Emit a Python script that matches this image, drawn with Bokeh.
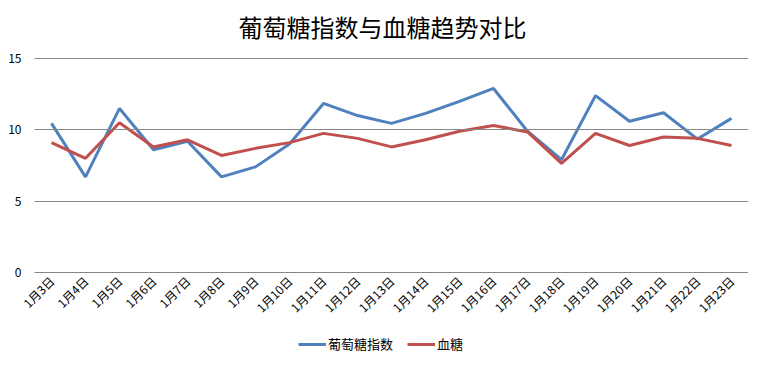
from bokeh.plotting import figure
from bokeh.models import Range1d, Legend, LegendItem, FixedTicker, Label
from bokeh.embed import file_html
from bokeh.resources import INLINE
import math

dates = ["1月3日", "1月4日", "1月5日", "1月6日", "1月7日", "1月8日", "1月9日",
         "1月10日", "1月11日", "1月12日", "1月13日", "1月14日", "1月15日",
         "1月16日", "1月17日", "1月18日", "1月19日", "1月20日", "1月21日",
         "1月22日", "1月23日"]
glucose_index = [10.45, 6.7, 11.5, 8.6, 9.2, 6.7, 7.4, 9.0, 11.85, 11.0, 10.45,
                 11.15, 12.0, 12.9, 9.9, 7.9, 12.4, 10.6, 11.2, 9.35, 10.8]
blood_sugar = [9.1, 8.0, 10.5, 8.8, 9.3, 8.2, 8.7, 9.1, 9.75, 9.4, 8.8,
               9.3, 9.9, 10.3, 9.85, 7.65, 9.75, 8.9, 9.5, 9.4, 8.9]
y_ticks = [0, 5, 10, 15]
title_text = "葡萄糖指数与血糖趋势对比"

FONT = "Noto Sans CJK SC"
idx = list(range(len(dates)))

p = figure(width=748, height=353, x_range=Range1d(-1.5, 20.5), y_range=Range1d(-5.69, 19.07),
           output_backend="svg", toolbar_location=None,
           min_border_left=0, min_border_right=0, min_border_top=0, min_border_bottom=0)
p.title.visible = False

p.outline_line_color = None
p.background_fill_color = "white"
p.xgrid.visible = False
p.ygrid.visible = False

# title, drawn as a screen-positioned label (frame covers the whole canvas)
p.add_layout(Label(x=382, y=327, x_units="screen", y_units="screen", text=title_text,
                   text_align="center", text_baseline="middle", text_font=FONT,
                   text_font_size="24px", text_color="#000000"))

# y axis at the left edge of the category area; its inward ticks act as the gridlines
p.yaxis.fixed_location = -0.5
p.yaxis.ticker = FixedTicker(ticks=y_ticks)
p.yaxis.axis_line_color = None
p.yaxis.major_tick_in = 714
p.yaxis.major_tick_out = 0
p.yaxis.major_tick_line_color = "#868686"
p.yaxis.major_tick_line_width = 1
p.yaxis.minor_tick_line_color = None
p.yaxis.major_label_text_font = FONT
p.yaxis.major_label_text_font_size = "12px"
p.yaxis.major_label_text_color = "#000000"
p.yaxis.major_label_standoff = 13

p.xaxis.fixed_location = 0
p.xaxis.ticker = FixedTicker(ticks=idx)
p.xaxis.major_label_overrides = {i: d for i, d in zip(idx, dates)}
p.xaxis.axis_line_color = None
p.xaxis.major_tick_line_color = None
p.xaxis.minor_tick_line_color = None
p.xaxis.major_tick_out = 0
p.xaxis.major_tick_in = 0
p.xaxis.major_label_orientation = math.pi / 4
p.xaxis.major_label_text_font = FONT
p.xaxis.major_label_text_font_size = "12px"
p.xaxis.major_label_text_color = "#000000"
p.xaxis.major_label_standoff = 6

r1 = p.line(idx, glucose_index, line_color="#4F81BD", line_width=3)
r2 = p.line(idx, blood_sugar, line_color="#C0504D", line_width=3)

legend = Legend(items=[LegendItem(label="葡萄糖指数", renderers=[r1]),
                       LegendItem(label="血糖", renderers=[r2])],
                orientation="horizontal", location=(298, 0),
                label_text_font=FONT, label_text_font_size="13px",
                label_text_color="#000000", border_line_color=None,
                background_fill_alpha=0, glyph_width=28, glyph_height=14,
                label_height=14, label_standoff=2,
                spacing=14, padding=0, margin=0)
p.add_layout(legend, "center")

open("out.html", "w").write(file_html(p, INLINE))
